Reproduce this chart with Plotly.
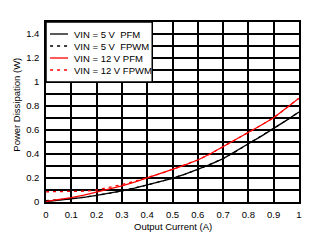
import plotly.graph_objects as go

current = [0.0, 0.05, 0.1, 0.15, 0.2, 0.25, 0.3, 0.35, 0.4, 0.45, 0.5,
           0.55, 0.6, 0.65, 0.7, 0.75, 0.8, 0.85, 0.9, 0.95, 1.0]
p_5v_pfm = [0.003, 0.013, 0.025, 0.039, 0.055, 0.072, 0.092, 0.115, 0.142, 0.168, 0.197,
            0.232, 0.27, 0.313, 0.362, 0.42, 0.485, 0.547, 0.612, 0.68, 0.75]
p_5v_fpwm = [0.012, 0.017, 0.027, 0.04, 0.055, 0.072, 0.092, 0.115, 0.142, 0.168, 0.197,
             0.232, 0.27, 0.313, 0.362, 0.42, 0.485, 0.547, 0.612, 0.68, 0.75]
p_12v_pfm = [0.005, 0.019, 0.036, 0.058, 0.083, 0.108, 0.135, 0.166, 0.2, 0.235, 0.272,
             0.31, 0.35, 0.402, 0.46, 0.52, 0.582, 0.64, 0.702, 0.78, 0.865]
p_12v_fpwm = [0.085, 0.085, 0.086, 0.09, 0.1, 0.12, 0.145, 0.172, 0.202, 0.235, 0.272,
              0.31, 0.35, 0.402, 0.46, 0.52, 0.582, 0.64, 0.702, 0.78, 0.865]

series = [
    ("VIN = 5 V  PFM", p_5v_pfm, "black", "solid"),
    ("VIN = 5 V  FPWM", p_5v_fpwm, "black", "3px,4px"),
    ("VIN = 12 V PFM", p_12v_pfm, "#ff0000", "solid"),
    ("VIN = 12 V FPWM", p_12v_fpwm, "#ff0000", "3px,4px"),
]

FONT = "Liberation Sans, Arial, sans-serif"
fig = go.Figure()
for name, vals, color, dash in series:
    fig.add_trace(go.Scatter(x=current, y=vals, mode="lines", name=name,
                             line=dict(color=color, width=1.3, dash=dash),
                             showlegend=False))

# manual legend box (in data coordinates of the upper-left grid cells)
leg_x0, leg_x1, leg_y0, leg_y1 = 0.0, 0.42, 1.0, 1.5
shapes = [dict(type="rect", xref="x", yref="y", x0=leg_x0, x1=leg_x1, y0=leg_y0, y1=leg_y1,
               fillcolor="white", line=dict(color="black", width=1.5), layer="above")]
annotations = []
leg_rows = [1.4, 1.3, 1.2, 1.1]
for (name, vals, color, dash), yy in zip(series, leg_rows):
    shapes.append(dict(type="line", xref="x", yref="y", x0=0.016, x1=0.087, y0=yy, y1=yy,
                       line=dict(color=color, width=1.3, dash=dash), layer="above"))
    annotations.append(dict(x=0.101, y=yy, xref="x", yref="y", text=name, showarrow=False,
                            xanchor="left", yanchor="middle",
                            font=dict(family=FONT, size=9.5, color="black")))

annotations.append(dict(x=0.5, y=-0.135, xref="paper", yref="paper", text="Output Current (A)",
                        showarrow=False, xanchor="center", yanchor="middle",
                        font=dict(family=FONT, size=9.5, color="black")))
annotations.append(dict(x=-0.115, y=0.54, xref="paper", yref="paper", text="Power Dissipation (W)",
                        showarrow=False, xanchor="center", yanchor="middle", textangle=-90,
                        font=dict(family=FONT, size=9.5, color="black")))

fig.update_layout(
    width=316, height=243,
    margin=dict(l=46, r=17, t=22, b=41),
    paper_bgcolor="white", plot_bgcolor="white",
    font=dict(family=FONT, size=9.5, color="black"),
    shapes=shapes, annotations=annotations,
    xaxis=dict(range=[0, 1], dtick=0.1, tick0=0, showgrid=True, gridcolor="black", gridwidth=1.5,
               showline=True, linecolor="black", linewidth=1.5, mirror=True, zeroline=False,
               ticks="outside", ticklen=3, tickcolor="rgba(0,0,0,0)",
               tickfont=dict(family=FONT, size=9.5, color="black")),
    yaxis=dict(range=[0, 1.5], dtick=0.2, tick0=0, showgrid=True, gridcolor="black", gridwidth=1.5,
               minor=dict(dtick=0.1, tick0=0, showgrid=True, gridcolor="black", gridwidth=1.5),
               showline=True, linecolor="black", linewidth=1.5, mirror=True, zeroline=False,
               ticks="outside", ticklen=3, tickcolor="rgba(0,0,0,0)",
               tickfont=dict(family=FONT, size=9.5, color="black")),
)

fig.write_html("out.html")
